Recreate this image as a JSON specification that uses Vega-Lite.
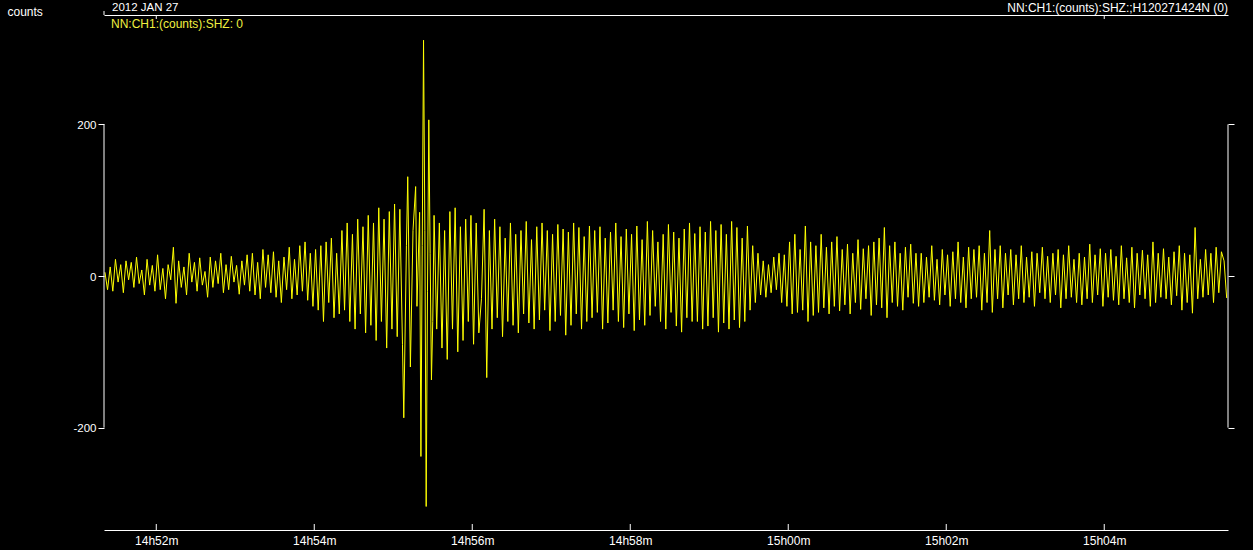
{
"$schema": "https://vega.github.io/schema/vega-lite/v6.json",
"width": 1124, "height": 515,
"autosize": {"type": "none"},
"padding": {"left": 104, "top": 15, "right": 25, "bottom": 20},
"background": "#000000",
"config": {"view": {"stroke": null}, "font": "Liberation Sans",
  "axis": {"domainColor": "#ffffff", "tickColor": "#ffffff", "labelColor": "#ffffff", "titleColor": "#ffffff", "grid": false, "labelFont": "Liberation Sans", "titleFont": "Liberation Sans", "domainWidth": 1, "tickWidth": 1}},
"datasets": {
"trace": [
{"t":3081,"v":5},{"t":3083,"v":-18},{"t":3085,"v":12},{"t":3087,"v":-20},{"t":3089,"v":22},{"t":3091,"v":-8},{"t":3093,"v":15},{"t":3095,"v":-22},{"t":3097,"v":20},{"t":3099,"v":-5},
{"t":3101,"v":18},{"t":3103,"v":-15},{"t":3105,"v":25},{"t":3107,"v":-10},{"t":3109,"v":8},{"t":3111,"v":-25},{"t":3113,"v":22},{"t":3115,"v":-12},{"t":3117,"v":14},{"t":3119,"v":-20},
{"t":3121,"v":28},{"t":3123,"v":-18},{"t":3125,"v":10},{"t":3127,"v":-30},{"t":3129,"v":15},{"t":3131,"v":-5},{"t":3133,"v":38},{"t":3135,"v":-36},{"t":3137,"v":20},{"t":3139,"v":-15},
{"t":3141,"v":12},{"t":3143,"v":-25},{"t":3145,"v":30},{"t":3147,"v":-8},{"t":3149,"v":18},{"t":3151,"v":-20},{"t":3153,"v":24},{"t":3155,"v":-12},{"t":3157,"v":6},{"t":3159,"v":-28},
{"t":3161,"v":25},{"t":3163,"v":-15},{"t":3165,"v":20},{"t":3167,"v":-10},{"t":3169,"v":30},{"t":3171,"v":-22},{"t":3173,"v":15},{"t":3175,"v":-18},{"t":3177,"v":26},{"t":3179,"v":-8},
{"t":3181,"v":14},{"t":3183,"v":-24},{"t":3185,"v":20},{"t":3187,"v":-12},{"t":3189,"v":28},
{"t":3191,"v":-20},{"t":3193,"v":30},{"t":3195,"v":-25},{"t":3197,"v":18},{"t":3199,"v":-30},{"t":3201,"v":35},{"t":3203,"v":-15},{"t":3205,"v":28},{"t":3207,"v":-22},{"t":3209,"v":32},
{"t":3211,"v":-28},{"t":3213,"v":20},{"t":3215,"v":-35},{"t":3217,"v":25},{"t":3219,"v":-18},{"t":3221,"v":38},{"t":3223,"v":-30},{"t":3225,"v":22},{"t":3227,"v":-25},{"t":3229,"v":40},
{"t":3231,"v":-20},{"t":3233,"v":45},{"t":3235,"v":-32},{"t":3237,"v":30},{"t":3239,"v":-40},
{"t":3241,"v":35},{"t":3243,"v":-45},{"t":3245,"v":40},{"t":3247,"v":-60},{"t":3249,"v":45},{"t":3251,"v":-35},{"t":3253,"v":50},{"t":3255,"v":-55},{"t":3257,"v":30},{"t":3259,"v":-50},
{"t":3261,"v":60},{"t":3263,"v":-45},{"t":3265,"v":70},{"t":3267,"v":-60},{"t":3269,"v":55},{"t":3271,"v":-70},{"t":3273,"v":75},{"t":3275,"v":-50},{"t":3277,"v":65},{"t":3279,"v":-75},
{"t":3281,"v":80},{"t":3283,"v":-65},{"t":3285,"v":70},{"t":3287,"v":-85},{"t":3289,"v":90},{"t":3291,"v":-60},{"t":3293,"v":75},{"t":3295,"v":-95},{"t":3297,"v":85},{"t":3299,"v":-70},{"t":3301,"v":95},{"t":3303,"v":-80},{"t":3305,"v":88},
{"t":3307,"v":-90},{"t":3308,"v":-187},{"t":3310,"v":40},{"t":3311,"v":131},{"t":3313,"v":-120},{"t":3315,"v":60},{"t":3317,"v":118},{"t":3318,"v":-40},{"t":3320,"v":84},{"t":3321,"v":-238},{"t":3322,"v":40},{"t":3323,"v":311},{"t":3324,"v":60},{"t":3325,"v":-304},{"t":3326,"v":-20},{"t":3327,"v":206},{"t":3328,"v":30},{"t":3329,"v":-137},{"t":3330,"v":-60},{"t":3331,"v":80},{"t":3333,"v":-70},
{"t":3335,"v":70},{"t":3337,"v":-95},{"t":3339,"v":60},{"t":3341,"v":-110},{"t":3343,"v":85},{"t":3345,"v":-70},{"t":3347,"v":90},{"t":3349,"v":-100},{"t":3351,"v":65},{"t":3353,"v":-85},{"t":3355,"v":75},{"t":3357,"v":-60},{"t":3359,"v":80},{"t":3361,"v":-90},{"t":3363,"v":70},{"t":3365,"v":-75},{"t":3367,"v":-30},{"t":3369,"v":88},{"t":3371,"v":-134},
{"t":3373,"v":60},{"t":3375,"v":-70},{"t":3377,"v":75},{"t":3379,"v":-55},{"t":3381,"v":65},{"t":3383,"v":-80},{"t":3385,"v":50},{"t":3387,"v":-60},{"t":3389,"v":70},{"t":3391,"v":-65},
{"t":3393,"v":55},{"t":3395,"v":-75},{"t":3397,"v":60},{"t":3399,"v":-50},{"t":3401,"v":72},{"t":3403,"v":-62},{"t":3405,"v":48},{"t":3407,"v":-70},{"t":3409,"v":65},{"t":3411,"v":-58},
{"t":3413,"v":70},{"t":3415,"v":-45},{"t":3417,"v":60},{"t":3419,"v":-72},{"t":3421,"v":55},{"t":3423,"v":-60},{"t":3425,"v":68},{"t":3427,"v":-52},{"t":3429,"v":62},{"t":3431,"v":-78},
{"t":3433,"v":58},{"t":3435,"v":-65},{"t":3437,"v":70},{"t":3439,"v":-50},{"t":3441,"v":64},{"t":3443,"v":-70},{"t":3445,"v":52},{"t":3447,"v":-60},{"t":3449,"v":66},
{"t":3451,"v":-55},{"t":3453,"v":60},{"t":3455,"v":-48},{"t":3457,"v":65},{"t":3459,"v":-70},{"t":3461,"v":50},{"t":3463,"v":-62},{"t":3465,"v":58},{"t":3467,"v":-45},{"t":3469,"v":70},
{"t":3471,"v":-60},{"t":3473,"v":52},{"t":3475,"v":-68},{"t":3477,"v":62},{"t":3479,"v":-50},{"t":3481,"v":55},{"t":3483,"v":-72},{"t":3485,"v":66},{"t":3487,"v":-58},{"t":3489,"v":48},
{"t":3491,"v":-65},{"t":3493,"v":72},{"t":3495,"v":-52},{"t":3497,"v":60},{"t":3499,"v":-40},{"t":3501,"v":45},{"t":3503,"v":-60},{"t":3505,"v":55},{"t":3507,"v":-70},{"t":3509,"v":68},
{"t":3511,"v":-48},{"t":3513,"v":58},{"t":3515,"v":-66},{"t":3517,"v":50},{"t":3519,"v":-74},{"t":3521,"v":62},{"t":3523,"v":-55},{"t":3525,"v":70},{"t":3527,"v":-60},{"t":3529,"v":56},
{"t":3531,"v":-60},{"t":3533,"v":65},{"t":3535,"v":-70},{"t":3537,"v":58},{"t":3539,"v":-66},{"t":3541,"v":72},{"t":3543,"v":-55},{"t":3545,"v":60},{"t":3547,"v":-74},{"t":3549,"v":68},
{"t":3551,"v":-62},{"t":3553,"v":55},{"t":3555,"v":-70},{"t":3557,"v":72},{"t":3559,"v":-58},{"t":3561,"v":64},{"t":3563,"v":-68},{"t":3565,"v":50},{"t":3567,"v":-60},{"t":3569,"v":66},
{"t":3571,"v":-45},{"t":3573,"v":40},{"t":3575,"v":-35},{"t":3577,"v":30},{"t":3579,"v":-25},
{"t":3581,"v":20},{"t":3583,"v":-28},{"t":3585,"v":15},{"t":3587,"v":-22},{"t":3589,"v":25},{"t":3591,"v":-18},{"t":3593,"v":30},{"t":3595,"v":-35},{"t":3597,"v":28},{"t":3599,"v":-40},
{"t":3601,"v":45},{"t":3603,"v":-50},{"t":3605,"v":55},{"t":3607,"v":-48},{"t":3609,"v":35},{"t":3611,"v":-45},{"t":3613,"v":66},{"t":3615,"v":-60},{"t":3617,"v":45},{"t":3619,"v":-52},
{"t":3621,"v":40},{"t":3623,"v":-48},{"t":3625,"v":55},{"t":3627,"v":-42},{"t":3629,"v":38},{"t":3631,"v":-50},{"t":3633,"v":45},{"t":3635,"v":-40},{"t":3637,"v":52},{"t":3639,"v":-46},
{"t":3641,"v":35},{"t":3643,"v":-38},{"t":3645,"v":42},{"t":3647,"v":-50},{"t":3649,"v":30},{"t":3651,"v":-35},{"t":3653,"v":48},{"t":3655,"v":-44},{"t":3657,"v":36},{"t":3659,"v":-30},
{"t":3661,"v":40},{"t":3663,"v":-52},{"t":3665,"v":45},{"t":3667,"v":-38},{"t":3669,"v":50},{"t":3671,"v":-42},{"t":3673,"v":64},{"t":3675,"v":-55},{"t":3677,"v":40},{"t":3679,"v":-35},
{"t":3681,"v":45},{"t":3683,"v":-40},{"t":3685,"v":30},{"t":3687,"v":-45},{"t":3689,"v":38},{"t":3691,"v":-28},{"t":3693,"v":42},{"t":3695,"v":-36},{"t":3697,"v":30},{"t":3699,"v":-40},
{"t":3701,"v":30},{"t":3703,"v":-35},{"t":3705,"v":25},{"t":3707,"v":-28},{"t":3709,"v":40},{"t":3711,"v":-32},{"t":3713,"v":22},{"t":3715,"v":-38},{"t":3717,"v":35},{"t":3719,"v":-25},
{"t":3721,"v":28},{"t":3723,"v":-40},{"t":3725,"v":32},{"t":3727,"v":-30},{"t":3729,"v":45},{"t":3731,"v":-35},{"t":3733,"v":25},{"t":3735,"v":-42},{"t":3737,"v":38},{"t":3739,"v":-30},
{"t":3741,"v":35},{"t":3743,"v":-28},{"t":3745,"v":40},{"t":3747,"v":-45},{"t":3749,"v":30},{"t":3751,"v":-35},{"t":3753,"v":60},{"t":3755,"v":-48},{"t":3757,"v":35},{"t":3759,"v":-30},
{"t":3761,"v":40},{"t":3763,"v":-42},{"t":3765,"v":30},{"t":3767,"v":-25},{"t":3769,"v":35},{"t":3771,"v":-38},{"t":3773,"v":28},{"t":3775,"v":-30},{"t":3777,"v":40},{"t":3779,"v":-35},
{"t":3781,"v":25},{"t":3783,"v":-28},{"t":3785,"v":32},{"t":3787,"v":-40},{"t":3789,"v":30},{"t":3791,"v":-22},{"t":3793,"v":38},{"t":3795,"v":-30},{"t":3797,"v":26},{"t":3799,"v":-35},
{"t":3801,"v":30},{"t":3803,"v":-25},{"t":3805,"v":35},{"t":3807,"v":-42},{"t":3809,"v":28},{"t":3811,"v":-30},{"t":3813,"v":40},{"t":3815,"v":-28},{"t":3817,"v":22},{"t":3819,"v":-35},
{"t":3821,"v":30},{"t":3823,"v":-38},{"t":3825,"v":25},{"t":3827,"v":-30},{"t":3829,"v":42},{"t":3831,"v":-35},{"t":3833,"v":28},{"t":3835,"v":-25},{"t":3837,"v":36},{"t":3839,"v":-40},
{"t":3841,"v":30},{"t":3843,"v":-28},{"t":3845,"v":35},{"t":3847,"v":-32},{"t":3849,"v":26},{"t":3851,"v":-38},{"t":3853,"v":40},{"t":3855,"v":-30},{"t":3857,"v":24},{"t":3859,"v":-35},
{"t":3861,"v":38},{"t":3863,"v":-42},{"t":3865,"v":30},{"t":3867,"v":-25},{"t":3869,"v":34},{"t":3871,"v":-30},{"t":3873,"v":28},{"t":3875,"v":-40},{"t":3877,"v":45},{"t":3879,"v":-35},
{"t":3881,"v":30},{"t":3883,"v":-28},{"t":3885,"v":36},{"t":3887,"v":-30},{"t":3889,"v":25},{"t":3891,"v":-38},{"t":3893,"v":32},{"t":3895,"v":-26},{"t":3897,"v":40},{"t":3899,"v":-45},
{"t":3901,"v":30},{"t":3903,"v":-35},{"t":3905,"v":28},{"t":3907,"v":-49},{"t":3909,"v":64},{"t":3911,"v":-30},{"t":3913,"v":22},{"t":3915,"v":-28},{"t":3917,"v":35},{"t":3919,"v":-25},
{"t":3921,"v":30},{"t":3923,"v":-35},{"t":3925,"v":38},{"t":3927,"v":-22},{"t":3929,"v":32},{"t":3931,"v":20},{"t":3933,"v":-29}
],
"one": [{"label": "single"}],
"bottomticks": [{"t":3120},{"t":3240},{"t":3360},{"t":3480},{"t":3600},{"t":3720},{"t":3840}],
"topticks": [{"t":3120},{"t":3840}]
},
"data": {"name": "trace"},
"layer": [
{"mark": {"type": "line", "color": "#ffff00", "strokeWidth": 1, "clip": true},
 "encoding": {
  "x": {"field": "t", "type": "quantitative", "scale": {"domain": [3080.3, 3934], "nice": false, "zero": false},
        "axis": {"orient": "bottom", "values": [3120, 3240, 3360, 3480, 3600, 3720, 3840], "tickSize": 0, "labelPadding": 5, "labelBaseline": "top", "labelFontSize": 12, "title": null,
                 "labelExpr": "(14 + floor(datum.value / 3600)) + 'h' + (floor(datum.value / 60) % 60 < 10 ? '0' : '') + (floor(datum.value / 60) % 60) + 'm'"}},
  "y": {"field": "v", "type": "quantitative", "scale": {"domain": [-335, 344.3], "nice": false, "zero": false},
        "axis": {"orient": "left", "values": [-200, 0, 200], "domain": false, "tickSize": 6, "labelPadding": 2, "labelFontSize": 11.5, "labelOffset": 1, "labelExpr": "'' + datum.value",
                 "title": "counts", "titleAngle": 0, "titleX": -97, "titleY": 0, "titleAlign": "left", "titleBaseline": "alphabetic", "titleFontSize": 12, "titleFontWeight": "normal"}}
 }},
{"data": {"name": "one"},
 "mark": {"type": "rule", "color": "#ffffff", "strokeWidth": 1},
 "encoding": {
  "x": {"datum": 3080.3, "type": "quantitative", "axis": {"orient": "top", "ticks": false, "labels": false, "domain": true, "title": null}},
  "y": {"datum": 200, "type": "quantitative", "axis": {"orient": "right", "values": [-200, 0, 200], "tickSize": 6, "labels": false, "domain": false, "title": null}},
  "y2": {"datum": -200}
 }},
{"data": {"name": "one"},
 "mark": {"type": "rule", "color": "#ffffff", "strokeWidth": 1},
 "encoding": {
  "x": {"datum": 3934, "type": "quantitative", "axis": null},
  "y": {"datum": 200, "type": "quantitative", "axis": null},
  "y2": {"datum": -200}
 }},
{"data": {"name": "one"},
 "mark": {"type": "rule", "color": "#ffffff", "strokeWidth": 1},
 "encoding": {
  "x": {"datum": 3080.3, "type": "quantitative", "axis": null},
  "y": {"datum": 344.3, "type": "quantitative", "axis": null},
  "y2": {"datum": 349.6}
 }},
{"data": {"name": "bottomticks"},
 "mark": {"type": "rule", "color": "#ffffff", "strokeWidth": 1},
 "encoding": {
  "x": {"field": "t", "type": "quantitative", "axis": null},
  "y": {"datum": -335, "type": "quantitative", "axis": null},
  "y2": {"datum": -327.1}
 }},
{"data": {"name": "topticks"},
 "mark": {"type": "rule", "color": "#ffffff", "strokeWidth": 1},
 "encoding": {
  "x": {"field": "t", "type": "quantitative", "axis": null},
  "y": {"datum": 344.3, "type": "quantitative", "axis": null},
  "y2": {"datum": 339}
 }},
{"data": {"name": "one"},
 "mark": {"type": "text", "text": "2012 JAN 27", "color": "#ffffff", "fontSize": 11.5, "align": "left", "baseline": "alphabetic", "dx": 8, "dy": -4},
 "encoding": {"x": {"datum": 3080.3, "type": "quantitative", "axis": null}, "y": {"datum": 344.3, "type": "quantitative", "axis": null}}},
{"data": {"name": "one"},
 "mark": {"type": "text", "text": "NN:CH1:(counts):SHZ: 0", "color": "#f0f040", "fontSize": 12, "align": "left", "baseline": "alphabetic", "dx": 7, "dy": 13},
 "encoding": {"x": {"datum": 3080.3, "type": "quantitative", "axis": null}, "y": {"datum": 344.3, "type": "quantitative", "axis": null}}},
{"data": {"name": "one"},
 "mark": {"type": "text", "text": "NN:CH1:(counts):SHZ:;H120271424N (0)", "color": "#ffffff", "fontSize": 12, "align": "right", "baseline": "alphabetic", "dx": 0, "dy": -3},
 "encoding": {"x": {"datum": 3934, "type": "quantitative", "axis": null}, "y": {"datum": 344.3, "type": "quantitative", "axis": null}}}
],
"resolve": {"axis": {"x": "independent", "y": "independent"}}
}
